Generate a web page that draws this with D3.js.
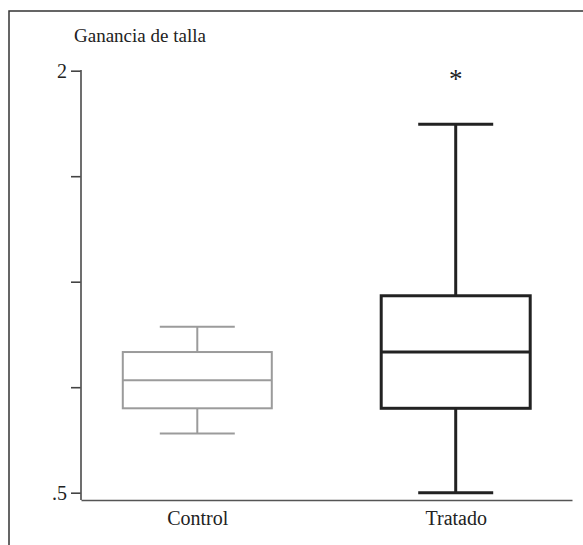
<!DOCTYPE html>
<html>
<head>
<meta charset="utf-8">
<script src="https://cdn.jsdelivr.net/npm/d3@7"></script>
<style>
  html, body { margin: 0; padding: 0; background: #fff; }
  svg { display: block; }
  svg text { font-family: "Liberation Serif", "Times New Roman", Times, "DejaVu Serif", serif !important; fill: #222; }
</style>
</head>
<body>
<svg id="chart" width="583" height="545"></svg>
<script>
// Groups and their box-plot summaries (Ganancia de talla)
const groups = ["Control", "Tratado"];
const whiskerLow  = [0.71, 0.50];
const quartile1   = [0.80, 0.80];
const medians     = [0.90, 1.00];
const quartile3   = [1.00, 1.20];
const whiskerHigh = [1.09, 1.81];
const outliers    = [[], [1.98]];
const groupColors = ["#9b9b9b", "#222222"];
const groupStroke = [2, 3];

const yTicks = [0.5, 0.875, 1.25, 1.625, 2];
const yTickLabels = { 0.5: ".5", 2: "2" };
const yTitle = "Ganancia de talla";

const serif = '"Liberation Serif", "Times New Roman", Times, "DejaVu Serif", serif';

const svg = d3.select("#chart");

// outer frame (only top and left edges fall inside the picture)
svg.append("rect")
  .attr("x", 9).attr("y", 11)
  .attr("width", 700).attr("height", 700)
  .attr("fill", "none").attr("stroke", "#333").attr("stroke-width", 1.5);

const axisX = 81, axisY = 500;

const y = d3.scaleLinear().domain([0.5, 2]).range([492.7, 70.7]);
const x = d3.scalePoint().domain(groups).range([axisX, 572]).padding(0.45);

// title
svg.append("text")
  .attr("x", 74).attr("y", 42)
  .style("font-family", serif)
  .attr("font-size", 19)
  .text(yTitle);

// y axis
const yAxis = svg.append("g")
  .attr("transform", `translate(${axisX},0)`)
  .call(d3.axisLeft(y)
    .tickValues(yTicks)
    .tickSize(10)
    .tickPadding(4)
    .tickFormat(d => yTickLabels[d] || ""));
yAxis.attr("font-family", null);
yAxis.select(".domain").remove();
yAxis.selectAll(".tick line").attr("stroke", "#444").attr("stroke-width", 1.6);
yAxis.selectAll(".tick text")
  .style("font-family", serif)
  .attr("font-size", 20)
  .attr("fill", "#222");

svg.append("line")
  .attr("x1", axisX).attr("x2", axisX)
  .attr("y1", y(2) - 0.8).attr("y2", axisY)
  .attr("stroke", "#555").attr("stroke-width", 1.7);

// x axis
const xAxis = svg.append("g")
  .attr("transform", `translate(0,${axisY})`)
  .call(d3.axisBottom(x).tickSize(0).tickSizeOuter(0).tickPadding(11));
xAxis.attr("font-family", null);
xAxis.select(".domain").attr("stroke", "#555").attr("stroke-width", 1.7);
xAxis.selectAll(".tick text")
  .style("font-family", serif)
  .attr("font-size", 20)
  .attr("fill", "#222");

// boxes
const boxW = 149, capW = 75;
const rows = groups.map((g, i) => ({
  g, lo: whiskerLow[i], q1: quartile1[i], med: medians[i], q3: quartile3[i],
  hi: whiskerHigh[i], out: outliers[i], color: groupColors[i], sw: groupStroke[i]
}));

const box = svg.selectAll("g.box").data(rows).join("g").attr("class", "box")
  .attr("stroke", d => d.color)
  .attr("stroke-width", d => d.sw)
  .attr("fill", "none");

// whisker stems
box.append("line")
  .attr("x1", d => x(d.g)).attr("x2", d => x(d.g))
  .attr("y1", d => y(d.hi)).attr("y2", d => y(d.q3));
box.append("line")
  .attr("x1", d => x(d.g)).attr("x2", d => x(d.g))
  .attr("y1", d => y(d.q1)).attr("y2", d => y(d.lo));
// caps
box.append("line")
  .attr("x1", d => x(d.g) - capW / 2).attr("x2", d => x(d.g) + capW / 2)
  .attr("y1", d => y(d.hi)).attr("y2", d => y(d.hi));
box.append("line")
  .attr("x1", d => x(d.g) - capW / 2).attr("x2", d => x(d.g) + capW / 2)
  .attr("y1", d => y(d.lo)).attr("y2", d => y(d.lo));
// box
box.append("rect")
  .attr("x", d => x(d.g) - boxW / 2)
  .attr("width", boxW)
  .attr("y", d => y(d.q3))
  .attr("height", d => y(d.q1) - y(d.q3))
  .attr("fill", "#fff");
// median
box.append("line")
  .attr("x1", d => x(d.g) - boxW / 2).attr("x2", d => x(d.g) + boxW / 2)
  .attr("y1", d => y(d.med)).attr("y2", d => y(d.med));

// outliers drawn as asterisks
rows.forEach(d => {
  svg.selectAll(null).data(d.out).join("text")
    .attr("x", x(d.g))
    .attr("y", v => y(v))
    .attr("dy", "0.43em")
    .attr("text-anchor", "middle")
    .style("font-family", serif)
    .attr("font-size", 27)
    .attr("fill", d.color)
    .text("*");
});
</script>
</body>
</html>
